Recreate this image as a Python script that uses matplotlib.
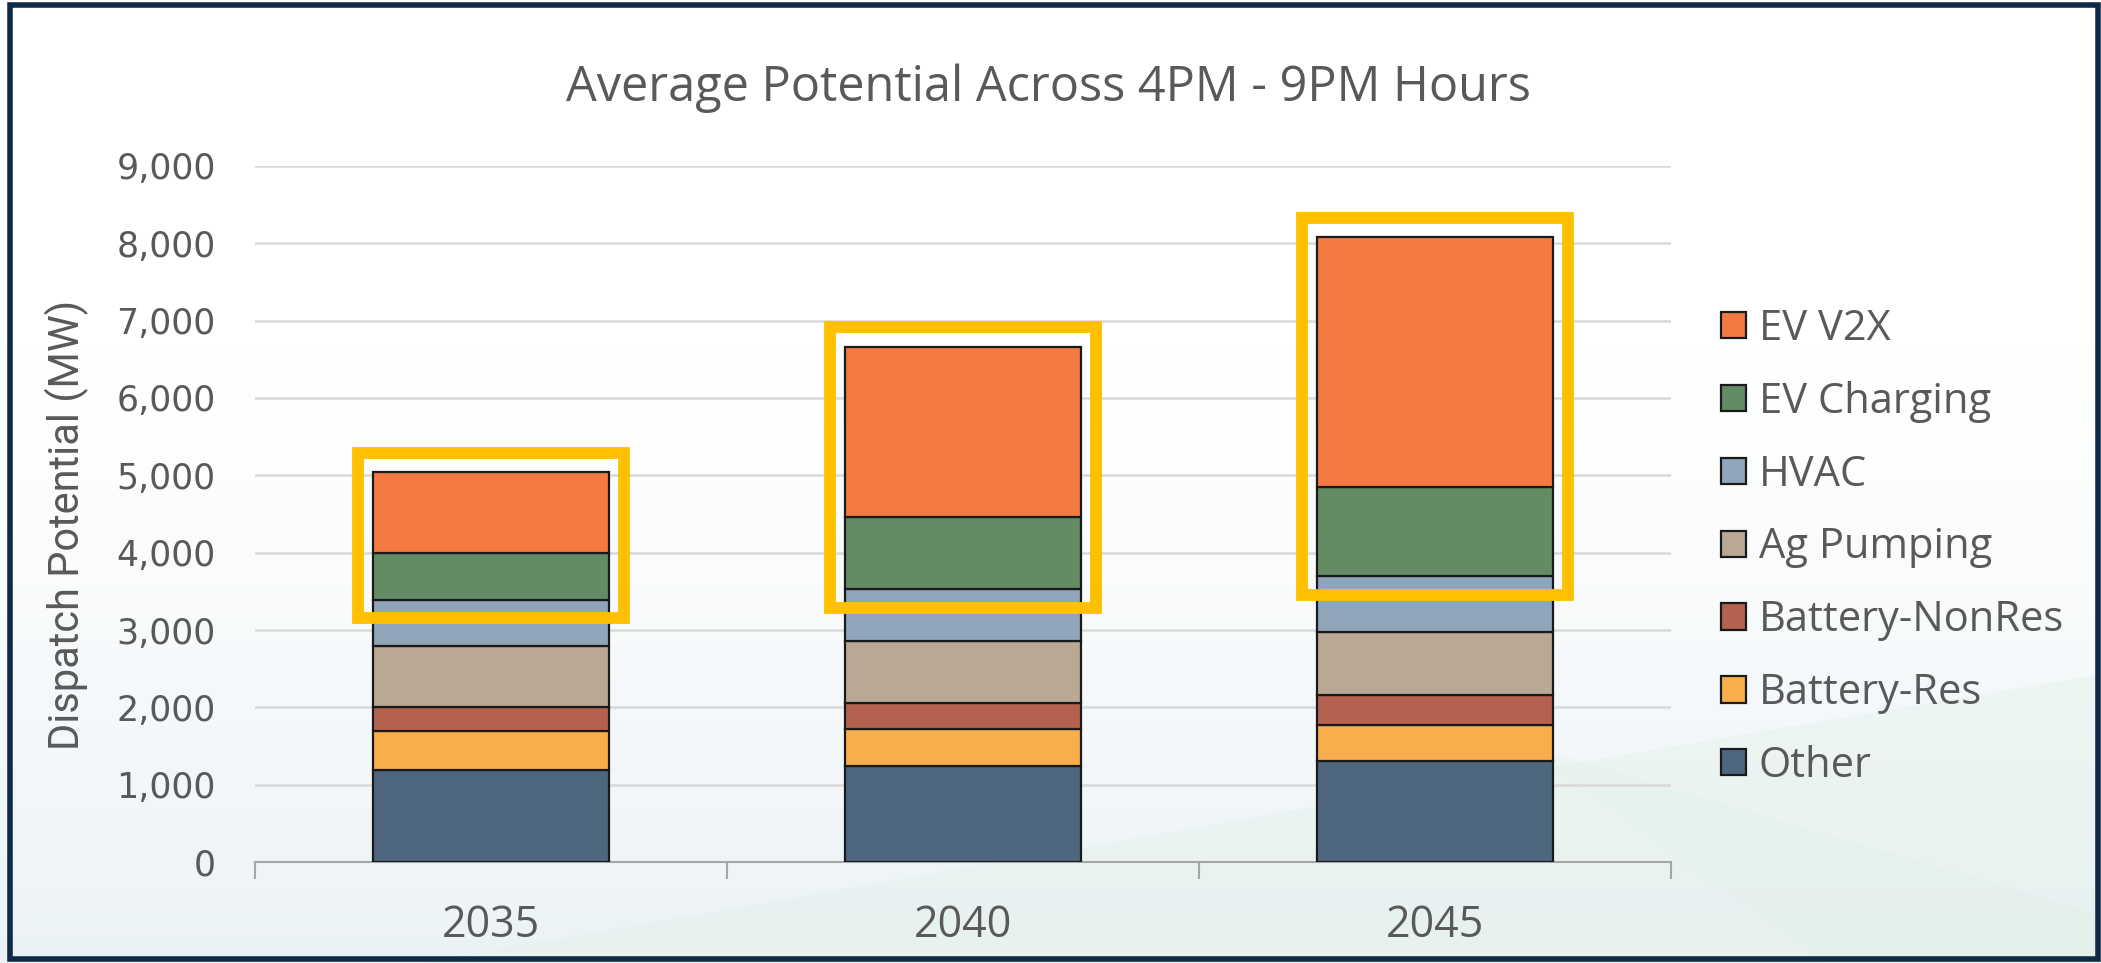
import numpy as np
import matplotlib.pyplot as plt
from matplotlib.patches import Rectangle, Polygon

years = ['2035', '2040', '2045']
other = [1190, 1250, 1310]
battery_res = [500, 470, 460]
battery_nonres = [310, 340, 390]
ag_pumping = [800, 805, 815]
hvac = [590, 665, 720]
ev_charging = [610, 930, 1150]
ev_v2x = [1040, 2200, 3230]

series = [('Other', other, '#4e677f'),
          ('Battery-Res', battery_res, '#f8ae4c'),
          ('Battery-NonRes', battery_nonres, '#b56150'),
          ('Ag Pumping', ag_pumping, '#b8a894'),
          ('HVAC', hvac, '#8fa5ba'),
          ('EV Charging', ev_charging, '#638b64'),
          ('EV V2X', ev_v2x, '#f47a42')]

txt = '#595959'
fig = plt.figure(figsize=(21.01, 9.63), dpi=100)

# soft background: pale blue fade toward the bottom + faint green shapes
bg = fig.add_axes([0, 0, 1, 1], zorder=-10)
bg.set_xlim(0, 1)
bg.set_ylim(0, 1)
bg.axis('off')
h = np.linspace(0, 1, 256)
alpha = np.clip((0.65 - h) / 0.65, 0, 1) ** 1.3
img = np.zeros((256, 2, 4))
img[..., 0] = 0.925
img[..., 1] = 0.950
img[..., 2] = 0.965
img[..., 3] = alpha[:, None]
bg.imshow(img, extent=[0, 1, 0, 1], aspect='auto', origin='lower')
bg.add_patch(Polygon([[0.2, 0.0], [1.0, 0.0], [1.0, 0.3], [0.62, 0.16]],
                     color='#dff0e6', alpha=0.35, zorder=2, linewidth=0))
bg.add_patch(Polygon([[0.72, 0.23], [0.87, 0.0], [1.0, 0.0], [1.0, 0.05]],
                     color='#dff0e6', alpha=0.3, zorder=2, linewidth=0))
bg.add_patch(Rectangle((0.0048, 0.004), 0.9937, 0.991, fill=False,
                       edgecolor='#0f2a46', linewidth=4, zorder=5))

ax = fig.add_axes([0.1212, 0.1046, 0.6741, 0.7233])
ax.patch.set_alpha(0)
x = np.arange(len(years))
bottom = np.zeros(len(years))
handles = []
for name, vals, col in series:
    b = ax.bar(x, vals, 0.5, bottom=bottom, color=col, edgecolor='#1a1a1a',
               linewidth=1.6, label=name, zorder=3)
    handles.append(b)
    bottom = bottom + np.array(vals)

# yellow highlight boxes around the EV segments
lower = np.array(other) + np.array(battery_res) + np.array(battery_nonres) \
    + np.array(ag_pumping) + np.array(hvac)
for i in range(len(years)):
    y0 = lower[i] - 240
    y1 = bottom[i] + 250
    ax.add_patch(Rectangle((x[i] - 0.282, y0), 0.564, y1 - y0, fill=False,
                           edgecolor='#ffc000', linewidth=8.5, zorder=4,
                           clip_on=False))

ax.set_xlim(-0.5, 2.5)
ax.set_ylim(0, 9000)
ax.set_yticks(range(0, 9001, 1000))
ax.set_yticklabels([f'{v:,}' for v in range(0, 9001, 1000)],
                   fontsize=25, color=txt, family='DejaVu Sans')
ax.set_xticks(x)
ax.set_xticklabels(years, fontsize=31, color=txt, family='Open Sans')
ax.set_xticks([-0.5, 0.5, 1.5, 2.5], minor=True)
ax.tick_params(axis='x', which='major', length=0, pad=30)
ax.tick_params(axis='x', which='minor', length=12, width=1.5, color='#a6a6a6')
ax.tick_params(axis='y', length=0, pad=28)
ax.grid(axis='y', color='#d9d9d9', linewidth=1.8, zorder=0)
for s in ['top', 'right', 'left']:
    ax.spines[s].set_visible(False)
ax.spines['bottom'].set_color('#a6a6a6')
ax.spines['bottom'].set_linewidth(1.5)

ax.set_ylabel('Dispatch Potential (MW)', fontsize=30, color=txt,
              family='Roboto', labelpad=8)
ax.yaxis.set_label_coords(-0.117, 0.485)
fig.text(0.499, 0.908, 'Average Potential Across 4PM - 9PM Hours',
         fontsize=35, color=txt, family='Open Sans', ha='center', va='center')

leg = ax.legend(handles[::-1], [s[0] for s in series][::-1],
                loc='center left', bbox_to_anchor=(1.009, 0.452), frameon=False,
                fontsize=30, handlelength=0.6, handleheight=0.6,
                handletextpad=0.3, labelspacing=0.74)
for t in leg.get_texts():
    t.set_color(txt)
    t.set_family('Open Sans')

fig.savefig('out.png', dpi=100)
